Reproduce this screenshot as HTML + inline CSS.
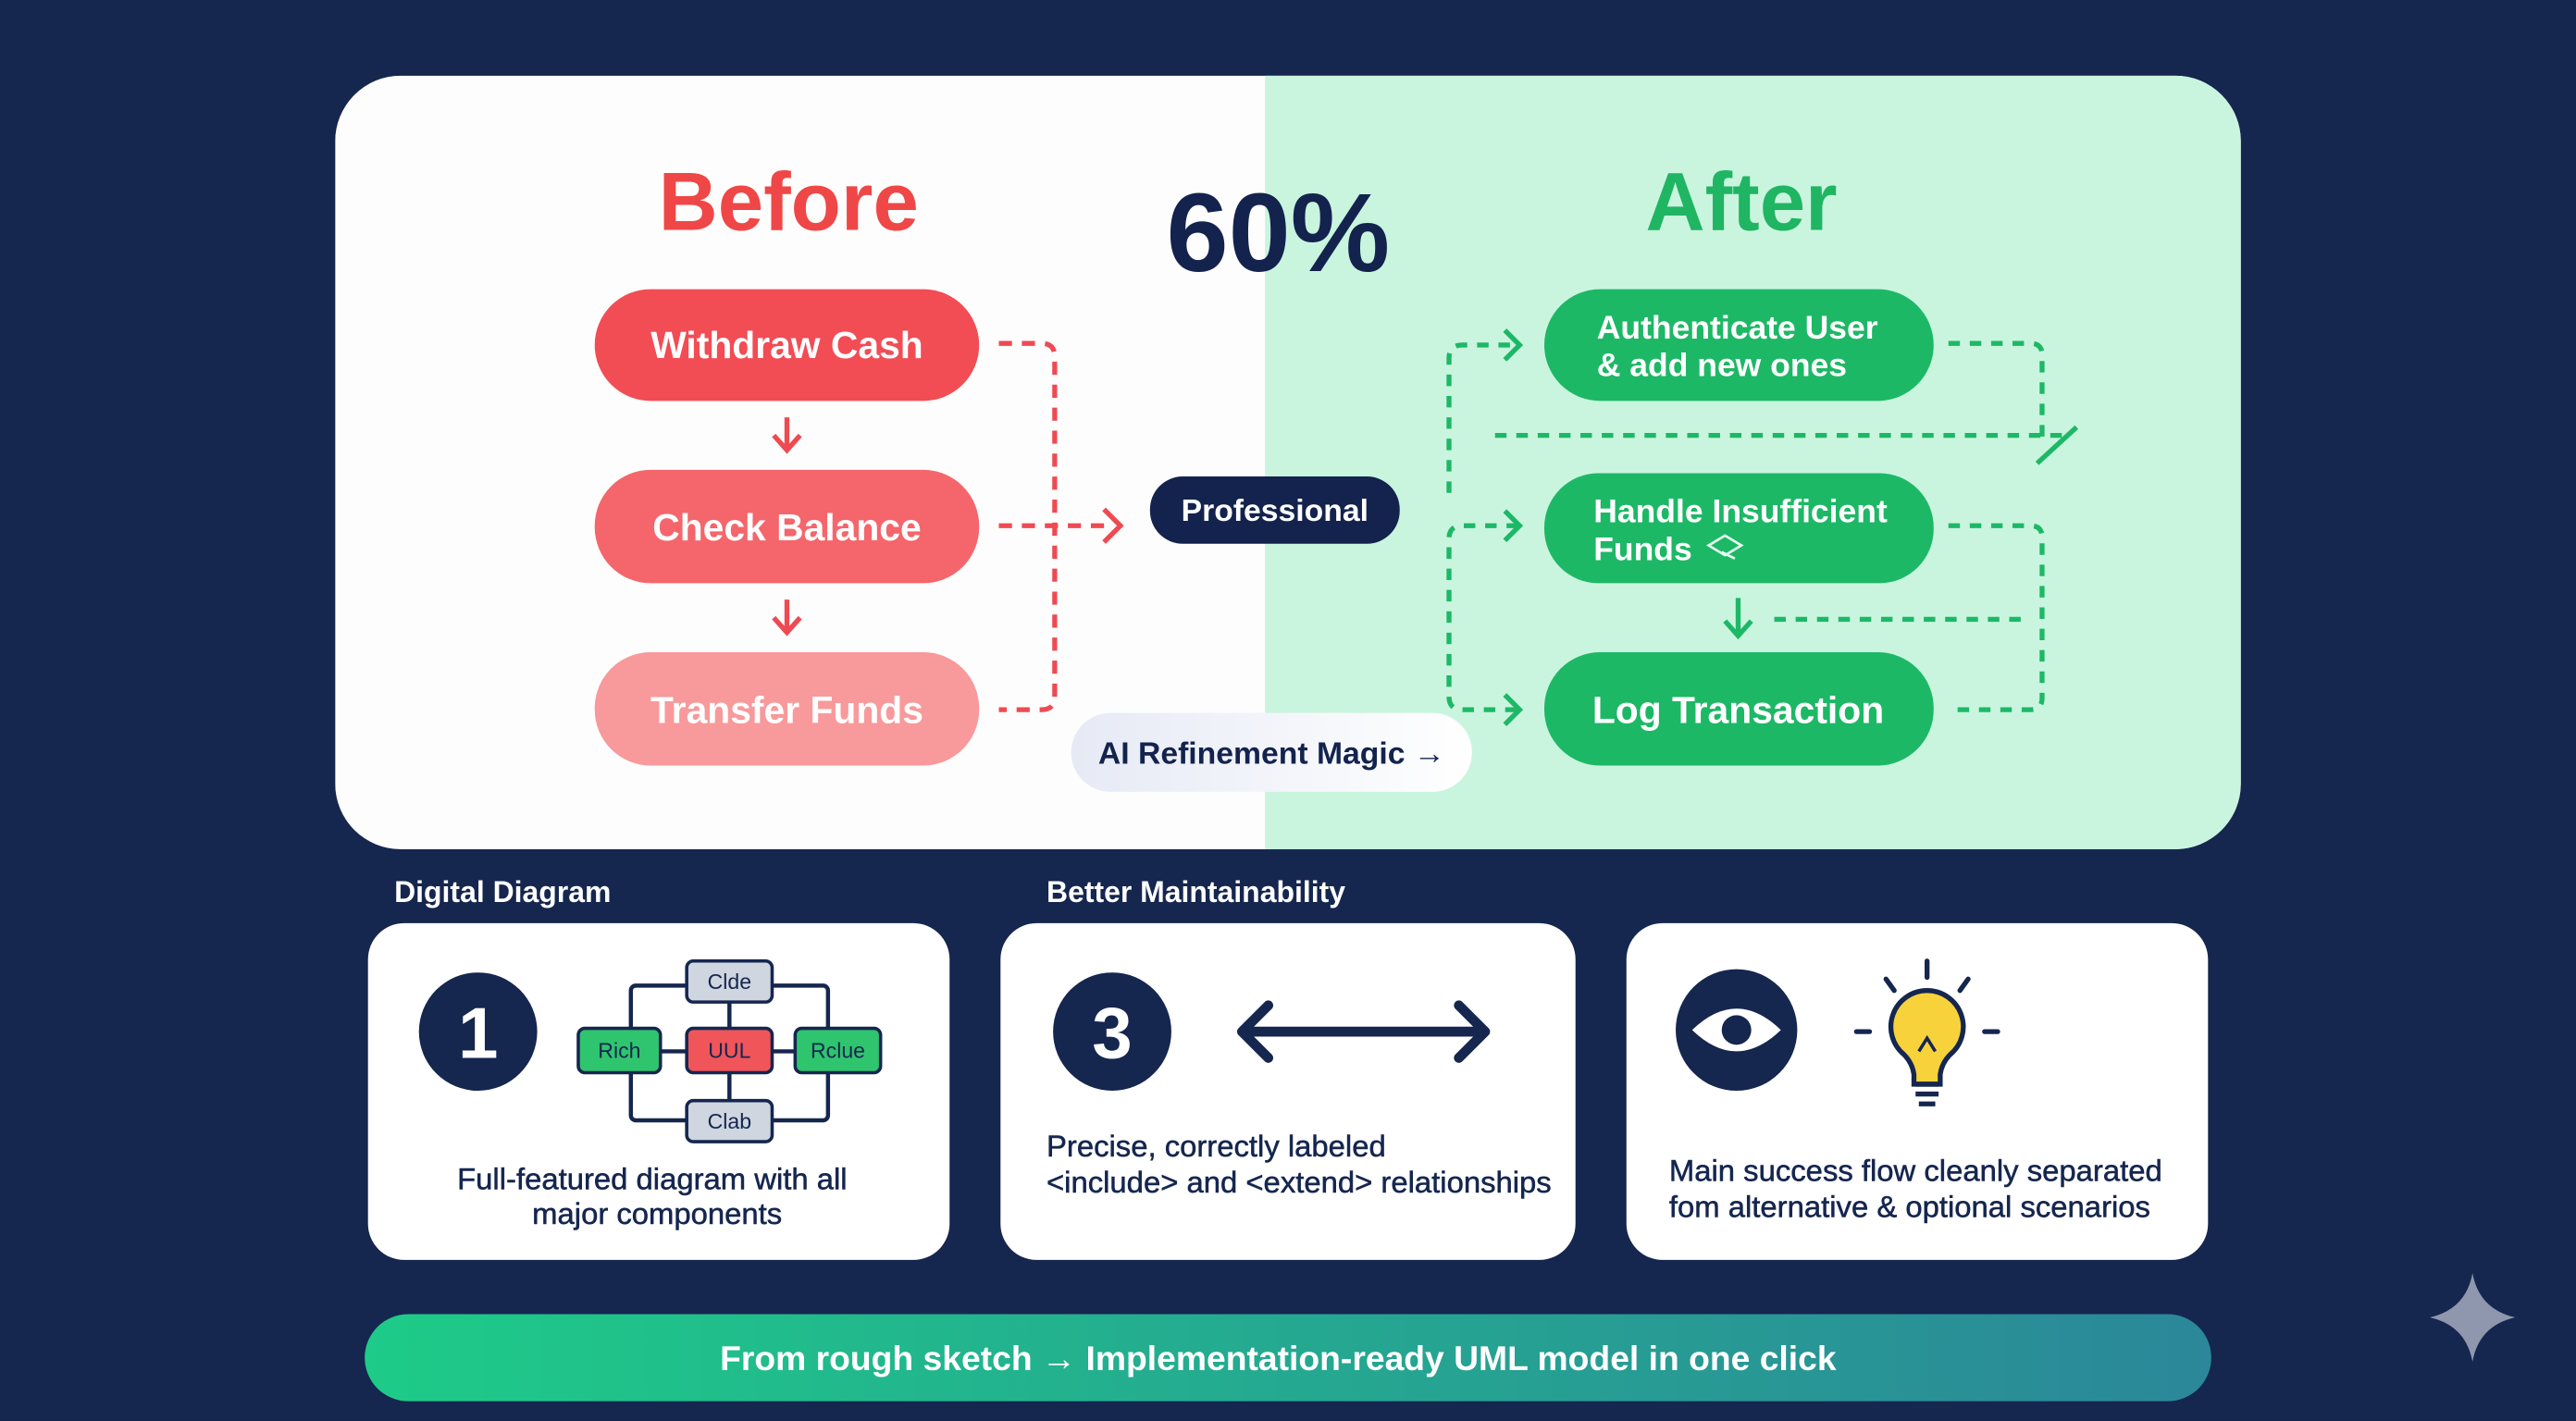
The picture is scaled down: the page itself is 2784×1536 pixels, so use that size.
<!DOCTYPE html>
<html><head><style>html,body{margin:0;padding:0;background:#15264f;}svg{display:block}</style></head><body>
<svg width="2784" height="1536" viewBox="0 0 1568 865" xmlns="http://www.w3.org/2000/svg" font-family="Liberation Sans, sans-serif">
<defs>
<clipPath id="cp"><rect x="204" y="46" width="1160" height="471" rx="40"/></clipPath>
<linearGradient id="bar" x1="0" x2="1"><stop offset="0" stop-color="#1ecb88"/><stop offset="1" stop-color="#2b8799"/></linearGradient>
<linearGradient id="ai" x1="0" x2="1"><stop offset="0" stop-color="#e6eaf5"/><stop offset="1" stop-color="#ffffff"/></linearGradient>
</defs>
<rect width="1568" height="865" fill="#15264f"/>
<g clip-path="url(#cp)">
<rect x="204" y="46" width="1160" height="471" fill="#fdfdfd"/>
<rect x="770" y="46" width="600" height="471" fill="#c9f5df"/>
</g>
<text x="480" y="140" text-anchor="middle" font-size="50" font-weight="bold" fill="#ef4747">Before</text>
<text x="778" y="165" text-anchor="middle" font-size="68" font-weight="bold" fill="#13234d">60%</text>
<text x="1060" y="140" text-anchor="middle" font-size="50" font-weight="bold" fill="#1fb563">After</text>
<rect x="362" y="176" width="234" height="68" rx="34" fill="#f24c54"/>
<rect x="362" y="286" width="234" height="69" rx="34" fill="#f4666b"/>
<rect x="362" y="397" width="234" height="69" rx="34" fill="#f8999b"/>
<g fill="#fff" font-size="23" font-weight="bold" text-anchor="middle">
<text x="479" y="218">Withdraw Cash</text>
<text x="479" y="329">Check Balance</text>
<text x="479" y="440">Transfer Funds</text>
</g>
<g stroke="#ef4a52" stroke-width="3" fill="none">
<path d="M479 254v19M471 265l8 9 8-9"/>
<path d="M479 365v19M471 376l8 9 8-9"/>
<path d="M608 209h26q8 0 8 8v207q0 8-8 8h-26" stroke-dasharray="8 6"/>
<path d="M608 320h66" stroke-dasharray="8 6"/>
<path d="M672 310l10 10-10 10"/>
</g>
<rect x="700" y="290" width="152" height="41" rx="20" fill="#13234d"/>
<text x="776" y="317" text-anchor="middle" font-size="19" font-weight="bold" fill="#fff">Professional</text>
<rect x="652" y="434" width="244" height="48" rx="24" fill="url(#ai)"/>
<text x="774" y="465" text-anchor="middle" font-size="19" font-weight="bold" fill="#13234d">AI Refinement Magic →</text>
<rect x="940" y="176" width="237" height="68" rx="34" fill="#1db866"/>
<rect x="940" y="288" width="237" height="67" rx="33" fill="#1db866"/>
<rect x="940" y="397" width="237" height="69" rx="34" fill="#1db866"/>
<g fill="#fff" font-size="20" font-weight="bold">
<text x="972" y="206">Authenticate User</text>
<text x="972" y="229">&amp; add new ones</text>
<text x="970" y="318">Handle Insufficient</text>
<text x="970" y="341">Funds</text>
<text x="1058" y="440" text-anchor="middle" font-size="23">Log Transaction</text>
</g>
<path d="M1040 332l10-6 10 6-10 6z M1048 336l8 4" stroke="#e6fff0" stroke-width="1.5" fill="none"/>
<g stroke="#1db866" stroke-width="3" fill="none">
<path d="M882 300V218q0-8 8-8h34" stroke-dasharray="7 6"/>
<path d="M916 201l9 9-9 9"/>
<path d="M910 265h345" stroke-dasharray="7 6"/>
<path d="M1186 209h50q7 0 7 7v50" stroke-dasharray="7 6"/>
<path d="M1240 282l24-22"/>
<path d="M924 320h-34q-8 0-8 8v96q0 8 8 8h34" stroke-dasharray="7 6"/>
<path d="M916 311l9 9-9 9M916 423l9 9-9 9"/>
<path d="M1186 320h50q7 0 7 7v98q0 7-7 7h-50" stroke-dasharray="7 6"/>
<path d="M1080 377h150" stroke-dasharray="7 6"/>
<path d="M1058 364v22M1050 378l8 9 8-9"/>
</g>
<text x="240" y="549" font-size="18" font-weight="bold" fill="#fff">Digital Diagram</text>
<text x="637" y="549" font-size="18" font-weight="bold" fill="#fff">Better Maintainability</text>
<rect x="224" y="562" width="354" height="205" rx="22" fill="#fff"/>
<rect x="609" y="562" width="350" height="205" rx="22" fill="#fff"/>
<rect x="990" y="562" width="354" height="205" rx="22" fill="#fff"/>
<circle cx="291" cy="628" r="36" fill="#15264f"/>
<text x="291" y="644" text-anchor="middle" font-size="44" font-weight="bold" fill="#fff">1</text>
<rect x="384" y="600" width="120" height="82" fill="none" stroke="#15264f" stroke-width="2.5" rx="3"/>
<path d="M444 610v16M444 653v17M402 640h16M470 640h14" stroke="#15264f" stroke-width="2.5"/>
<g stroke="#15264f" stroke-width="2">
<rect x="418" y="585" width="52" height="25" rx="4" fill="#cfd6e0"/>
<rect x="352" y="626" width="50" height="27" rx="4" fill="#2fc46e"/>
<rect x="418" y="626" width="52" height="27" rx="4" fill="#f0555a"/>
<rect x="484" y="626" width="52" height="27" rx="4" fill="#2fc46e"/>
<rect x="418" y="670" width="52" height="25" rx="4" fill="#cfd6e0"/>
</g>
<g font-size="13" text-anchor="middle" fill="#15264f">
<text x="444" y="602">Clde</text><text x="377" y="644">Rich</text><text x="444" y="644">UUL</text><text x="510" y="644">Rclue</text><text x="444" y="687">Clab</text>
</g>
<g font-size="18.5" fill="#15264f" stroke="#15264f" stroke-width="0.3">
<text x="397" y="724" text-anchor="middle">Full-featured diagram with all</text>
<text x="400" y="745" text-anchor="middle">major components</text>
<text x="637" y="704">Precise, correctly labeled</text>
<text x="637" y="726">&lt;include&gt; and &lt;extend&gt; relationships</text>
<text x="1016" y="719">Main success flow cleanly separated</text>
<text x="1016" y="741">fom alternative &amp; optional scenarios</text>
</g>
<circle cx="677" cy="628" r="36" fill="#15264f"/>
<text x="677" y="644" text-anchor="middle" font-size="44" font-weight="bold" fill="#fff">3</text>
<path d="M760 628h140M772 612l-16 16 16 16M888 612l16 16-16 16" stroke="#15264f" stroke-width="6" fill="none" stroke-linecap="round" stroke-linejoin="round"/>
<circle cx="1057" cy="627" r="37" fill="#15264f"/>
<path d="M1030 627q27-26 54 0q-27 26-54 0z" fill="#fff"/>
<circle cx="1057" cy="627" r="9" fill="#15264f"/>
<g stroke="#15264f" stroke-width="3" stroke-linecap="round">
<path d="M1173 585v10M1148 596l5 7M1198 596l-5 7M1130 628h8M1208 628h8"/>
</g>
<path d="M1173 603a22 22 0 0 0-14 39q5 5 6 12v6h16v-6q1-7 6-12a22 22 0 0 0-14-39z" fill="#f7d23a" stroke="#15264f" stroke-width="3"/>
<path d="M1166 660h14M1166 666h14M1168 672h10" stroke="#15264f" stroke-width="3"/>
<path d="M1168 640l5-8 5 8" stroke="#15264f" stroke-width="2" fill="none"/>
<rect x="222" y="800" width="1124" height="53" rx="26.5" fill="url(#bar)"/>
<text x="778" y="834" text-anchor="middle" font-size="21" font-weight="bold" fill="#fff">From rough sketch → Implementation-ready UML model in one click</text>
<path d="M1505 775q4 22 26 27q-22 5-26 27q-4-22-26-27q22-5 26-27z" fill="#8e97ad"/>
</svg>
</body></html>
